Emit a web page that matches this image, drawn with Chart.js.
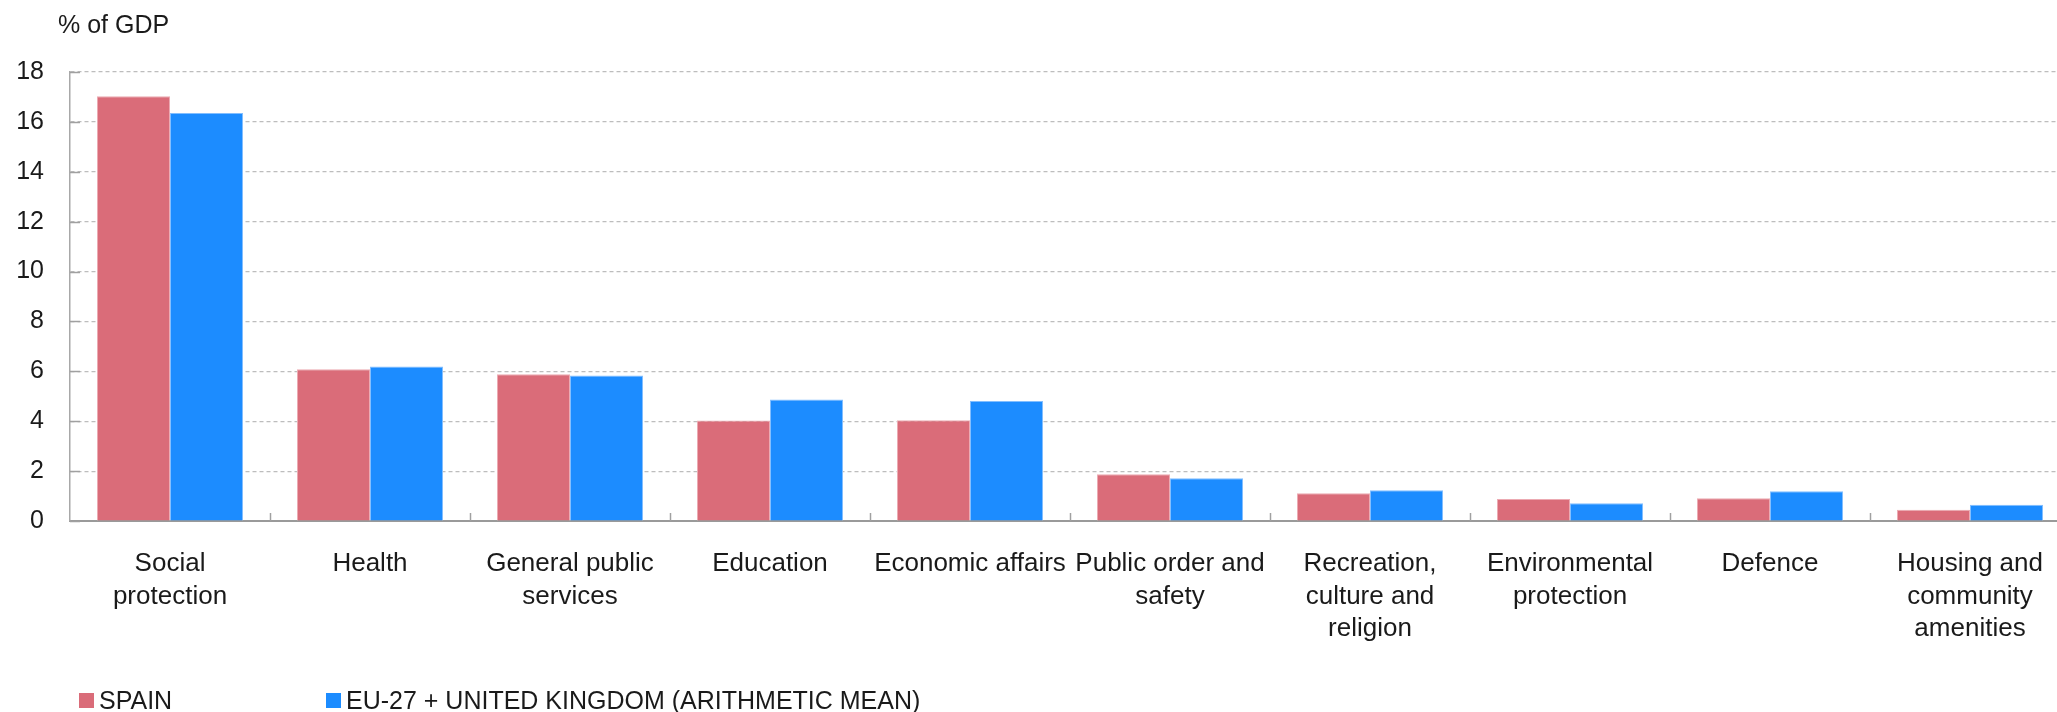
<!DOCTYPE html>
<html>
<head>
<meta charset="utf-8">
<script src="https://cdn.jsdelivr.net/npm/chart.js@4/dist/chart.umd.min.js"></script>
<style>
  html, body { margin: 0; padding: 0; background: #fff; overflow: hidden; }
  #wrap { width: 2070px; height: 712px; }
</style>
</head>
<body>
<div id="wrap"><canvas id="spendChart" width="2070" height="712"></canvas></div>
<script>
const categories = [
    ["Social", "protection"],
    ["Health"],
    ["General public", "services"],
    ["Education"],
    ["Economic affairs"],
    ["Public order and", "safety"],
    ["Recreation,", "culture and", "religion"],
    ["Environmental", "protection"],
    ["Defence"],
    ["Housing and", "community", "amenities"],
];
const spain = [17.03, 6.08, 5.88, 4.03, 4.04, 1.87, 1.11, 0.88, 0.91, 0.45];
const euMean = [16.36, 6.19, 5.83, 4.87, 4.81, 1.71, 1.23, 0.71, 1.19, 0.65];
const seriesNames = ["SPAIN", "EU-27 + UNITED KINGDOM (ARITHMETIC MEAN)"];
const yTitle = "% of GDP";
const yMin = 0, yMax = 18, yStep = 2;

const FONT = "'Liberation Sans', Arial, Helvetica, sans-serif";
const TEXT = "#1a1a1a";

// inward tick marks, the "% of GDP" label and the bottom legend
const extras = {
    id: "extras",
    afterDraw(chart) {
        const c = chart.ctx;
        const x = chart.scales.x, y = chart.scales.y;
        c.save();
        c.strokeStyle = "#a0a0a0";
        c.lineWidth = 1.5;
        y.ticks.forEach((t) => {
            const py = Math.round(y.getPixelForValue(t.value)) + 0.5;
            c.beginPath();
            c.moveTo(x.left, py);
            c.lineTo(x.left + 10, py);
            c.stroke();
        });
        for (let i = 1; i < categories.length; i++) {
            const px = Math.round(x.getPixelForValue(i - 0.5)) + 0.5;
            c.beginPath();
            c.moveTo(px, y.bottom);
            c.lineTo(px, y.bottom - 8);
            c.stroke();
        }

        c.fillStyle = TEXT;
        c.font = "25px " + FONT;
        c.textBaseline = "alphabetic";
        c.textAlign = "left";
        c.fillText(yTitle, 58, 33);

        const slots = [79, 326];
        chart.data.datasets.forEach((ds, i) => {
            c.fillStyle = ds.backgroundColor;
            c.fillRect(slots[i], 693, 15, 15);
            c.fillStyle = TEXT;
            c.fillText(ds.label, slots[i] + 20, 709);
        });
        c.restore();
    },
};

const ctx = document.getElementById("spendChart").getContext("2d");

new Chart(ctx, {
    type: "bar",
    data: {
        labels: categories,
        datasets: [
            {
                label: seriesNames[0],
                data: spain,
                backgroundColor: "rgb(218,108,121)",
                borderColor: "rgb(236,170,178)",
                borderWidth: 1,
            },
            {
                label: seriesNames[1],
                data: euMean,
                backgroundColor: "rgb(28,140,255)",
                borderColor: "rgb(130,190,255)",
                borderWidth: 1,
            },
        ],
    },
    options: {
        responsive: false,
        animation: false,
        layout: { padding: { top: 72, left: 0, right: 0, bottom: 0 } },
        datasets: {
            bar: { categoryPercentage: 0.73, barPercentage: 1 },
        },
        scales: {
            x: {
                grid: { display: false },
                border: { display: true, color: "#9a9a9a", width: 2 },
                ticks: {
                    color: TEXT,
                    font: { family: FONT, size: 26, lineHeight: 1.24 },
                    padding: 19,
                    maxRotation: 0,
                    minRotation: 0,
                    autoSkip: false,
                },
                afterFit: (s) => { s.height = 712 - 521; },
            },
            y: {
                min: yMin,
                max: yMax,
                grid: {
                    color: "#bdbdbd",
                    lineWidth: 1.2,
                    drawTicks: false,
                },
                border: { display: true, color: "#a8a8a8", width: 1.5, dash: [4, 3] },
                ticks: {
                    stepSize: yStep,
                    color: TEXT,
                    font: { family: FONT, size: 25 },
                    padding: 26,
                },
                afterFit: (s) => { s.width = 70; },
            },
        },
        plugins: {
            legend: { display: false },
            tooltip: { enabled: false },
        },
    },
    plugins: [extras],
});
</script>
</body>
</html>
